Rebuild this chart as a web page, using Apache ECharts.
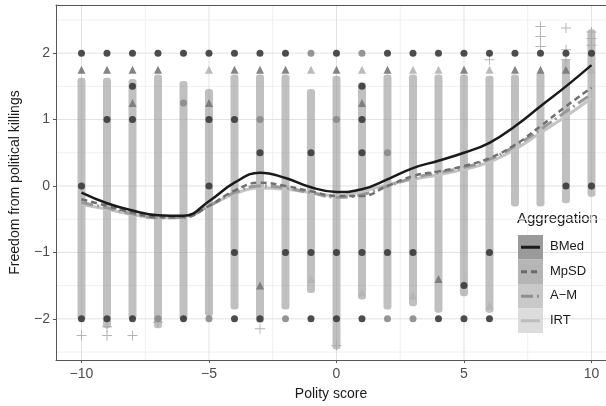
<!DOCTYPE html>
<html>
<head>
<meta charset="utf-8">
<script src="https://cdn.jsdelivr.net/npm/echarts@6/dist/echarts.min.js"></script>
<style>
html,body{margin:0;padding:0;background:#fff;}
#c{width:606px;height:406px;}
</style>
</head>
<body>
<div id="c"></div>
<script>
// ---- data ----
const polity = [-10,-9,-8,-7,-6,-5,-4,-3,-2,-1,0,1,2,3,4,5,6,7,8,9,10];
// extent of dense column of points at each polity score
const colHigh = [1.57,1.57,1.55,1.62,1.52,1.40,1.62,1.62,1.62,1.40,1.60,1.50,1.62,1.62,1.62,1.62,1.60,1.62,1.65,1.85,2.30];
const colLow  = [-1.96,-2.08,-1.95,-2.08,-1.96,-1.90,-1.80,-2.00,-1.80,-1.55,-2.40,-1.65,-1.80,-1.75,-1.85,-1.60,-1.85,-0.25,-0.25,-0.20,-0.10];
// smoothed curves
const bmed = [-0.10,-0.26,-0.37,-0.44,-0.45,-0.23,0.05,0.20,0.12,-0.02,-0.09,-0.05,0.10,0.27,0.38,0.50,0.65,0.90,1.20,1.50,1.82];
const mpsd = [-0.20,-0.30,-0.40,-0.47,-0.47,-0.30,-0.07,0.05,0.00,-0.08,-0.15,-0.15,0.00,0.15,0.22,0.30,0.42,0.62,0.90,1.20,1.48];
const am   = [-0.25,-0.33,-0.42,-0.48,-0.47,-0.30,-0.10,0.00,-0.03,-0.10,-0.17,-0.13,0.00,0.12,0.20,0.28,0.40,0.60,0.85,1.12,1.38];
const irt  = [-0.28,-0.35,-0.43,-0.48,-0.46,-0.30,-0.12,-0.03,-0.05,-0.10,-0.15,-0.08,0.02,0.10,0.17,0.25,0.36,0.55,0.80,1.05,1.32];
// distinct markers
const darkCircles = [[-10,2],[-9,2],[-8,2],[-7,2],[-6,2],[-5,2],[-4,2],[-3,2],[-2,2],[0,2],[2,2],[3,2],[4,2],[5,2],[6,2],[7,2],[8,2],[9,2],[10,2],
  [-10,-2],[-9,-2],[-8,-2],[-6,-2],[-4,-2],[-3,-2],[-1,-2],[0,-2],[1,-2],[4,-2],[5,-2],[6,-2],
  [-9,1],[-8,1.5],[-8,1],[-5,1],[-5,0],[-4,1],[-3,0.5],[-2,-1],[-1,-1],[1,1.5],[1,1],[1,0.5],[1,-1],[2,-1],[3,-1],[5,-1.5],[6,-1],[9,0],[10,0],[-10,0],[0,-1],[-4,-1],[-1,0.5]];
const greyCircles = [[-1,2],[1,2],[-7,-2],[-5,-2],[-2,-2],[2,-2],[3,-2],[-3,1],[0,1],[2,0.5],[-6,1.25]];
const darkTriangles = [[-10,1.75],[-9,1.75],[-8,1.75],[-7,1.75],[-4,1.75],[-3,1.75],[-2,1.75],[0,1.75],[2,1.75],[5,1.75],[7,1.75],[8,1.75],[9,1.75],[-8,1.25],[-5,1.25],[1,1.25],[4,-1.4],[-3,-1.5]];
const lightTriangles = [[-5,1.75],[-1,1.75],[1,1.75],[3,1.75],[4,1.75],[6,1.75],[10,1.75],[1,-1.6],[3,-1.65],[6,-1.8],[-1,-1.4],[5,-1.45]];
const plusPoints = [[-10,-2.25],[-9,-2.25],[-8,-2.25],[-3,-2.15],[-7,-2.05],[-9,-2.12],[0,-2.4],[8,2.4],[9,2.38],[10,2.32],[10,2.22],[10,2.12],[9,2.05],[8,2.1],[6,1.9],[9,1.9],[8,2.25]];
// axes
const xTicks = [-10,-5,0,5,10];
const yTicks = [-2,-1,0,1,2];
const xMinor = [-7.5,-2.5,2.5,7.5];
const yMinor = [-2.5,-1.5,-0.5,0.5,1.5,2.5];
const X_MIN = -11, X_MAX = 10.57, Y_MIN = -2.62, Y_MAX = 2.725;
const seriesNames = ['BMed','MpSD','A\u2212M','IRT'];

const fmt = v => String(v).replace('-', '\u2212');
const plusPath = 'path://M4.5,0H5.5V4.5H10V5.5H5.5V10H4.5V5.5H0V4.5H4.5Z';

function vlineSeries(vals, color, z){
  return {type:'custom', silent:true, z:z, data: vals.map(v=>[v,0]),
    renderItem:(p,api)=>{const v=api.value(0);const a=api.coord([v,Y_MIN]);const b=api.coord([v,Y_MAX]);
      return {type:'line',shape:{x1:a[0],y1:a[1],x2:b[0],y2:b[1]},style:{stroke:color,lineWidth:1}};}};
}
function hlineSeries(vals, color, z){
  return {type:'custom', silent:true, z:z, data: vals.map(v=>[0,v]),
    renderItem:(p,api)=>{const v=api.value(1);const a=api.coord([X_MIN,v]);const b=api.coord([X_MAX,v]);
      return {type:'line',shape:{x1:a[0],y1:a[1],x2:b[0],y2:b[1]},style:{stroke:color,lineWidth:1}};}};
}

const chart = echarts.init(document.getElementById('c'), null, {renderer:'canvas'});
const lineSer = (name, data, color, width, dash, z) => ({
  type:'line', name:name, data: polity.map((x,i)=>[x,data[i]]), smooth:0.45, symbol:'none', z:z,
  lineStyle:{color:color, width:width, type: dash || 'solid'}, silent:true
});

const legendX = 518, legendTop = 235, keyH = 24.5, keyW = 25;
const keyBg = ['#9a9a9a','#b5b5b5','#c9c9c9','#dcdcdc'];
const keyLine = [{c:'#1a1a1a',d:null},{c:'#6a6a6a',d:[6,4]},{c:'#8e8e8e',d:[12,4,2,4]},{c:'#bdbdbd',d:null}];
const graphics = [{type:'text', left:legendX-1, top:211, style:{text:'Aggregation', font:'15px "Liberation Sans", Arial, sans-serif', fill:'#1a1a1a'}}];
seriesNames.forEach((n,i)=>{
  const y0 = legendTop + i*keyH;
  graphics.push({type:'rect', shape:{x:legendX,y:y0,width:keyW,height:keyH}, style:{fill:keyBg[i]}, z:10});
  graphics.push({type:'line', shape:{x1:legendX+3,y1:y0+keyH/2,x2:legendX+keyW-3,y2:y0+keyH/2}, style:{stroke:keyLine[i].c,lineWidth:3,lineDash:keyLine[i].d}, z:11});
  graphics.push({type:'text', left:legendX+32, top:y0+5, style:{text:n, font:'13px "Liberation Sans", Arial, sans-serif', fill:'#1a1a1a'}, z:11});
});

chart.setOption({
  animation:false,
  backgroundColor:'#ffffff',
  grid:{left:55, top:5, right:0, bottom:44.5, show:false},
  xAxis:[{type:'value', min:X_MIN, max:X_MAX,
    name:'Polity score', nameLocation:'middle', nameGap:27,
    nameTextStyle:{fontSize:14, color:'#1a1a1a', fontFamily:'Liberation Sans'},
    axisLine:{show:true, onZero:false, lineStyle:{color:'#555555'}},
    axisTick:{show:true, length:3, customValues:xTicks, lineStyle:{color:'#555555'}},
    axisLabel:{customValues:xTicks, formatter:fmt, fontSize:14, color:'#4d4d4d', margin:7, fontFamily:'Liberation Sans'},
    splitLine:{show:false}},
    {type:'value', position:'top', min:X_MIN, max:X_MAX,
    axisLine:{show:true, onZero:false, lineStyle:{color:'#555555'}},
    axisTick:{show:false}, axisLabel:{show:false}, splitLine:{show:false}}],
  yAxis:{type:'value', min:Y_MIN, max:Y_MAX,
    name:'Freedom from political killings', nameLocation:'middle', nameGap:34, nameRotate:90,
    nameTextStyle:{fontSize:14, color:'#1a1a1a', fontFamily:'Liberation Sans'},
    axisLine:{show:true, onZero:false, lineStyle:{color:'#555555'}},
    axisTick:{show:true, length:3, customValues:yTicks, lineStyle:{color:'#555555'}},
    axisLabel:{customValues:yTicks, formatter:fmt, fontSize:14, color:'#4d4d4d', margin:6, fontFamily:'Liberation Sans'},
    splitLine:{show:false}},
  graphic: graphics,
  series:[
    vlineSeries(xMinor,'#f0f0f0',0), hlineSeries(yMinor,'#f0f0f0',0),
    vlineSeries(xTicks,'#e2e2e2',0), hlineSeries(yTicks,'#e2e2e2',0),
    {type:'custom', silent:true, z:1, data: polity.map((x,i)=>[x,colLow[i],colHigh[i]]),
      renderItem:(p,api)=>{const x=api.value(0);const a=api.coord([x,api.value(2)]);const b=api.coord([x,api.value(1)]);
        return {type:'rect',shape:{x:a[0]-4,y:a[1]-4,width:8,height:b[1]-a[1]+8,r:3},style:{fill:'rgba(150,150,150,0.6)'}};}},
    {type:'scatter', data:plusPoints, symbol:plusPath, symbolSize:10, itemStyle:{color:'#a8a8a8', opacity:0.85}, silent:true, z:2},
    {type:'scatter', data:lightTriangles, symbol:'triangle', symbolSize:8, itemStyle:{color:'#b4b4b4', opacity:0.9}, silent:true, z:2},
    {type:'scatter', data:darkTriangles, symbol:'triangle', symbolSize:8, itemStyle:{color:'#777777', opacity:0.9}, silent:true, z:2},
    {type:'scatter', data:greyCircles, symbol:'circle', symbolSize:7, itemStyle:{color:'#8a8a8a', opacity:0.9}, silent:true, z:2},
    {type:'scatter', data:darkCircles, symbol:'circle', symbolSize:7, itemStyle:{color:'#3a3a3a', opacity:0.9}, silent:true, z:2},
    lineSer('IRT', irt, '#c4c4c4', 3, null, 3),
    lineSer('A\u2212M', am, '#999999', 3, [12,4,2,4], 4),
    lineSer('MpSD', mpsd, '#707070', 2.5, [6,4], 5),
    lineSer('BMed', bmed, '#1a1a1a', 2.5, null, 6)
  ]
});
</script>
</body>
</html>
